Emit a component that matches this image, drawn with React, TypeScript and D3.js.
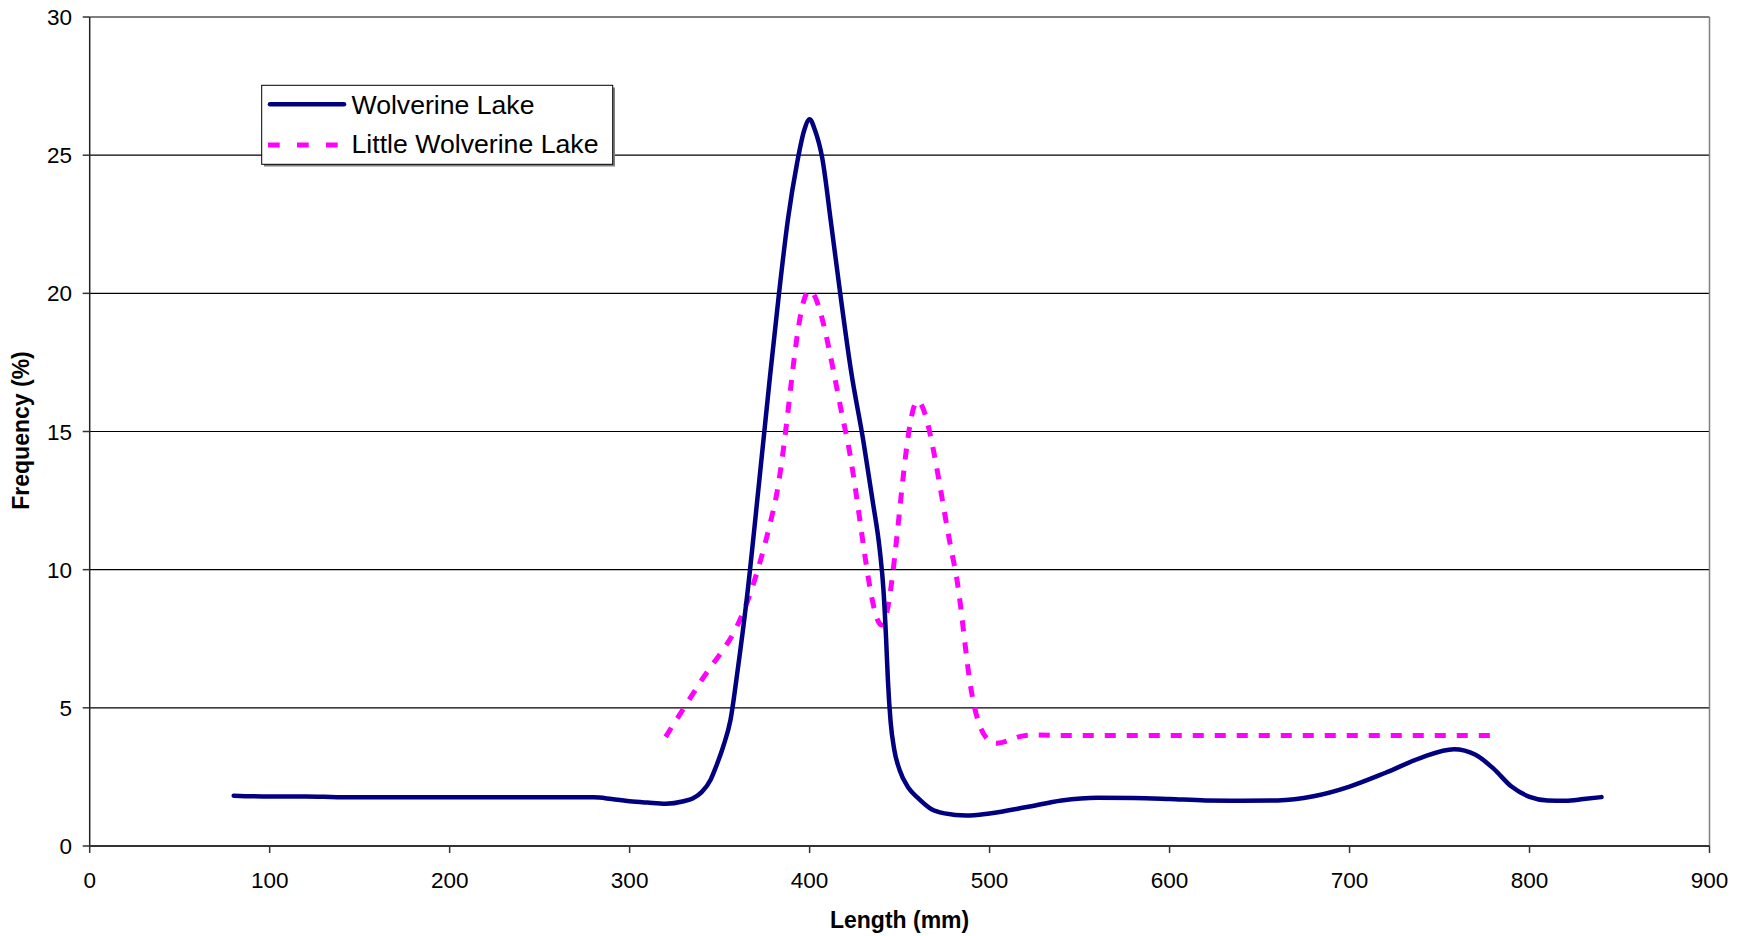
import React from "react";
import * as d3 from "d3";

const W = 1745;
const H = 936;

const xTicks = [0, 100, 200, 300, 400, 500, 600, 700, 800, 900];
const yTicks = [0, 5, 10, 15, 20, 25, 30];

const wolverineX = [80, 100, 120, 130, 140, 160, 200, 240, 280, 290, 300, 310, 320, 330, 335, 340, 345, 348, 352, 356, 360, 365, 372, 378, 383, 388, 393, 397, 400, 403, 407, 412, 417, 423, 430, 435, 439, 441, 442.5, 443.5, 445, 447, 450, 455, 460, 468, 475, 487, 500, 520, 540, 560, 580, 600, 620, 640, 660, 680, 700, 720, 740, 758, 770, 780, 790, 800, 810, 820, 830, 840];
const wolverineY = [1.82, 1.79, 1.79, 1.78, 1.76, 1.76, 1.76, 1.76, 1.76, 1.7, 1.62, 1.57, 1.53, 1.62, 1.72, 1.95, 2.4, 2.87, 3.6, 4.55, 6.35, 8.9, 13.2, 17, 20, 22.7, 24.7, 25.9, 26.3, 25.9, 24.9, 22.5, 20, 17.2, 14.6, 12.5, 10.7, 9.3, 7.5, 6, 4.5, 3.5, 2.75, 2.1, 1.75, 1.32, 1.18, 1.1, 1.18, 1.4, 1.65, 1.75, 1.74, 1.7, 1.65, 1.64, 1.65, 1.8, 2.15, 2.65, 3.2, 3.5, 3.3, 2.8, 2.15, 1.78, 1.65, 1.64, 1.7, 1.77];

const littleX = [320, 340, 360, 380, 400, 420, 440, 460, 480, 500, 520, 540, 560, 580, 600, 620, 640, 660, 680, 700, 720, 740, 760, 780];
const littleY = [3.95, 6.0, 8.0, 12.2, 20.1, 15.0, 8.0, 16.1, 10.3, 3.8, 4.0, 4.0, 4.0, 4.0, 4.0, 4.0, 4.0, 4.0, 4.0, 4.0, 4.0, 4.0, 4.0, 4.0];

const seriesNames = ["Wolverine Lake", "Little Wolverine Lake"];
const xTitle = "Length (mm)";
const yTitle = "Frequency (%)";

const FONT = "'Liberation Sans', Arial, sans-serif";

export default function App() {
  const x = d3.scaleLinear().domain([0, 900]).range([89.7, 1709.5]);
  const y = d3.scaleLinear().domain([0, 30]).range([846, 17]);

  const wolvPts: [number, number][] = wolverineX.map((v, i) => [v, wolverineY[i]]);
  const littlePts: [number, number][] = littleX.map((v, i) => [v, littleY[i]]);

  const lineW = d3
    .line<[number, number]>()
    .x((d) => x(d[0]))
    .y((d) => y(d[1]))
    .curve(d3.curveMonotoneX);
  const lineL = d3
    .line<[number, number]>()
    .x((d) => x(d[0]))
    .y((d) => y(d[1]))
    .curve(d3.curveCatmullRom.alpha(0.5));

  const [x0, x1] = x.range();
  const [yb, yt] = y.range();

  return (
    <svg width={W} height={H} style={{ position: "absolute", left: 0, top: 0, background: "#fff" }} fontFamily={FONT}>
      <rect x={0} y={0} width={W} height={H} fill="#fff" />
      {yTicks.filter((t) => t > 0).map((t) => (
        <line key={"g" + t} x1={x0} x2={x1} y1={y(t)} y2={y(t)} stroke="#000" strokeWidth={1.2} />
      ))}
      <line x1={x1} x2={x1} y1={yt} y2={yb} stroke="#808080" strokeWidth={1.5} />
      <line x1={x0} x2={x0} y1={yt} y2={yb} stroke="#222" strokeWidth={1.5} />
      <line x1={x0} x2={x1} y1={yb} y2={yb} stroke="#333" strokeWidth={2} />
      {xTicks.map((t) => (
        <g key={"xt" + t}>
          <line x1={x(t)} x2={x(t)} y1={yb} y2={yb + 7} stroke="#333" strokeWidth={1.5} />
          <text x={x(t)} y={888} textAnchor="middle" fontSize={22.5} fill="#000">
            {t}
          </text>
        </g>
      ))}
      {yTicks.map((t) => (
        <g key={"yt" + t}>
          <line x1={x0 - 7} x2={x0} y1={y(t)} y2={y(t)} stroke="#333" strokeWidth={1.5} />
          <text x={72} y={y(t) + 8} textAnchor="end" fontSize={22.5} fill="#000">
            {t}
          </text>
        </g>
      ))}
      <text x={(x0 + x1) / 2} y={928} textAnchor="middle" fontSize={23} fontWeight="bold" fill="#000">
        {xTitle}
      </text>
      <text
        transform={`translate(29, ${(yt + yb) / 2 - 1}) rotate(-90)`}
        textAnchor="middle"
        fontSize={23}
        fontWeight="bold"
        fill="#000"
      >
        {yTitle}
      </text>
      <path d={lineL(littlePts) || ""} fill="none" stroke="#FF00FF" strokeWidth={5} strokeDasharray="11 11" />
      <path d={lineW(wolvPts) || ""} fill="none" stroke="#000080" strokeWidth={4.5} strokeLinecap="round" strokeLinejoin="round" />
      <rect x={264} y={87.5} width={351} height={79} fill="#808080" />
      <rect x={261.7} y={85.3} width={351} height={79} fill="#fff" stroke="#000" strokeWidth={1} />
      <line x1={270} x2={344} y1={104.3} y2={104.3} stroke="#000080" strokeWidth={4.5} strokeLinecap="round" />
      <line x1={268} x2={340} y1={145} y2={145} stroke="#FF00FF" strokeWidth={5} strokeDasharray="11.7 17.3" />
      <text x={351.5} y={114.3} fontSize={25.5} fill="#000" textLength={183} lengthAdjust="spacingAndGlyphs">
        {seriesNames[0]}
      </text>
      <text x={351.5} y={153.3} fontSize={25.5} fill="#000" textLength={247} lengthAdjust="spacingAndGlyphs">
        {seriesNames[1]}
      </text>
    </svg>
  );
}
